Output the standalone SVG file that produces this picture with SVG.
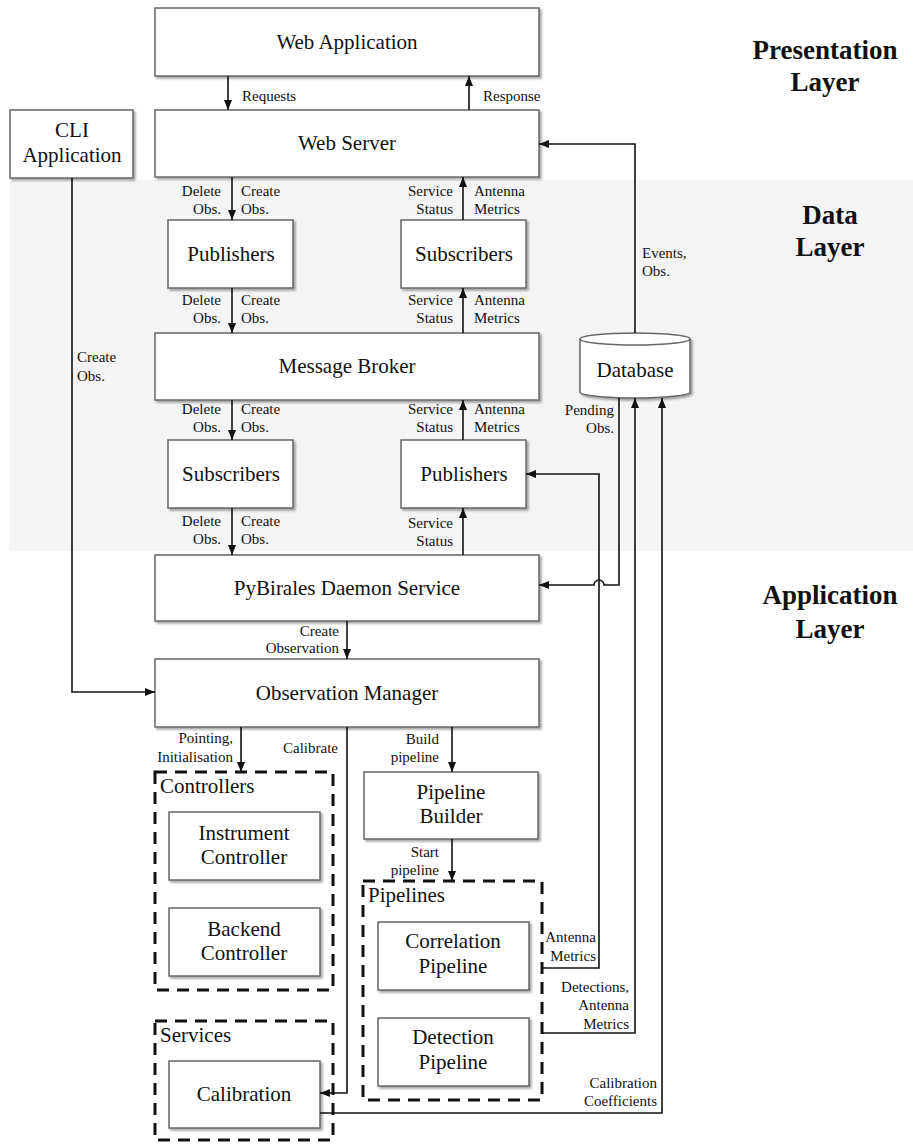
<svg xmlns="http://www.w3.org/2000/svg" width="913" height="1147" viewBox="0 0 913 1147">
<defs>
<marker id="arr" markerUnits="userSpaceOnUse" markerWidth="10" markerHeight="8" refX="10" refY="4" orient="auto"><path d="M0,0 L10,4 L0,8 z" fill="#111"/></marker>
<filter id="sh" x="-5%" y="-5%" width="115%" height="120%"><feDropShadow dx="2" dy="2" stdDeviation="1" flood-color="#000" flood-opacity="0.35"/></filter>
</defs>
<style>
.box{fill:#fff;stroke:#666;stroke-width:1.5;filter:url(#sh)}
.dash{fill:none;stroke:#111;stroke-width:3;stroke-dasharray:12 8}
.t{font-family:"Liberation Serif",serif;font-size:21px;fill:#111;text-anchor:middle}
.tl{font-family:"Liberation Serif",serif;font-size:21px;fill:#111}
.s{font-family:"Liberation Serif",serif;font-size:15px;fill:#111}
.r{text-anchor:end}
.h{font-family:"Liberation Serif",serif;font-size:27px;font-weight:bold;fill:#111;text-anchor:middle}
.c{fill:none;stroke:#111;stroke-width:1.6}
</style>
<rect x="10" y="180" width="903" height="371" fill="#f4f4f4"/>
<g id="layer-titles">
<text class="h" x="825" y="59">Presentation</text><text class="h" x="825" y="91">Layer</text>
<text class="h" x="830" y="224">Data</text><text class="h" x="830" y="256">Layer</text>
<text class="h" x="830" y="604">Application</text><text class="h" x="830" y="638">Layer</text>
</g>
<g id="web-application"><rect class="box" x="155" y="8" width="384" height="68"/><text class="t" x="347" y="49">Web Application</text></g>
<g id="web-server"><rect class="box" x="155" y="110" width="384" height="67"/><text class="t" x="347" y="150">Web Server</text></g>
<g id="cli-application"><rect class="box" x="10" y="110" width="123" height="68"/><text class="t" x="72" y="137">CLI</text><text class="t" x="72" y="162">Application</text></g>
<g id="publishers-top"><rect class="box" x="168" y="220" width="125" height="68"/><text class="t" x="231" y="261">Publishers</text></g>
<g id="subscribers-top"><rect class="box" x="401" y="220" width="125" height="68"/><text class="t" x="464" y="261">Subscribers</text></g>
<g id="message-broker"><rect class="box" x="155" y="333" width="384" height="67"/><text class="t" x="347" y="373">Message Broker</text></g>
<g id="database"><path d="M580,339 A55,6 0 0 1 690,339 V392 A55,6 0 0 1 580,392 Z" fill="#fff" stroke="#666" stroke-width="1.5" filter="url(#sh)"/><path d="M580,339 A55,6 0 0 0 690,339" fill="none" stroke="#666" stroke-width="1.5"/><text class="t" x="635" y="377">Database</text></g>
<g id="subscribers-bottom"><rect class="box" x="168" y="440" width="125" height="68"/><text class="t" x="231" y="481">Subscribers</text></g>
<g id="publishers-bottom"><rect class="box" x="401" y="440" width="125" height="68"/><text class="t" x="464" y="481">Publishers</text></g>
<g id="pybirales-daemon"><rect class="box" x="155" y="555" width="384" height="66"/><text class="t" x="347" y="595">PyBirales Daemon Service</text></g>
<g id="observation-manager"><rect class="box" x="155" y="659" width="384" height="68"/><text class="t" x="347" y="700">Observation Manager</text></g>
<g id="controllers"><rect class="dash" x="155" y="772" width="178" height="218"/><text class="tl" x="160" y="793">Controllers</text></g>
<g id="instrument-controller"><rect class="box" x="169" y="812" width="151" height="68"/><text class="t" x="244" y="840">Instrument</text><text class="t" x="244" y="864">Controller</text></g>
<g id="backend-controller"><rect class="box" x="169" y="908" width="151" height="68"/><text class="t" x="244" y="936">Backend</text><text class="t" x="244" y="960">Controller</text></g>
<g id="services"><rect class="dash" x="155" y="1021" width="178" height="119"/><text class="tl" x="160" y="1042">Services</text></g>
<g id="calibration"><rect class="box" x="169" y="1061" width="151" height="67"/><text class="t" x="244" y="1101">Calibration</text></g>
<g id="pipeline-builder"><rect class="box" x="364" y="772" width="174" height="67"/><text class="t" x="451" y="799">Pipeline</text><text class="t" x="451" y="823">Builder</text></g>
<g id="pipelines"><rect class="dash" x="363" y="881" width="179" height="219"/><text class="tl" x="368" y="902">Pipelines</text></g>
<g id="correlation-pipeline"><rect class="box" x="378" y="922" width="151" height="68"/><text class="t" x="453" y="948">Correlation</text><text class="t" x="453" y="973">Pipeline</text></g>
<g id="detection-pipeline"><rect class="box" x="378" y="1018" width="151" height="68"/><text class="t" x="453" y="1044">Detection</text><text class="t" x="453" y="1069">Pipeline</text></g>
<g id="connectors">
<path class="c" d="M228,76 V110" marker-end="url(#arr)"/>
<path class="c" d="M469,110 V76" marker-end="url(#arr)"/>
<path class="c" d="M232,177 V220" marker-end="url(#arr)"/>
<path class="c" d="M232,288 V333" marker-end="url(#arr)"/>
<path class="c" d="M232,400 V440" marker-end="url(#arr)"/>
<path class="c" d="M232,508 V555" marker-end="url(#arr)"/>
<path class="c" d="M463,220 V177" marker-end="url(#arr)"/>
<path class="c" d="M463,333 V288" marker-end="url(#arr)"/>
<path class="c" d="M463,440 V400" marker-end="url(#arr)"/>
<path class="c" d="M463,555 V508" marker-end="url(#arr)"/>
<path class="c" d="M635,333 V144 H539" marker-end="url(#arr)"/>
<path class="c" d="M72,178 V692 H155" marker-end="url(#arr)"/>
<path class="c" d="M347,621 V659" marker-end="url(#arr)"/>
<path class="c" d="M241,727 V772" marker-end="url(#arr)"/>
<path class="c" d="M452,727 V772" marker-end="url(#arr)"/>
<path class="c" d="M452,839 V881" marker-end="url(#arr)"/>
<path class="c" d="M347,727 V1093 H320" marker-end="url(#arr)"/>
<path class="c" d="M619,398 V585 H604 A5,5 0 0 0 594,585 H539" marker-end="url(#arr)"/>
<path class="c" d="M542,968 H599 V474 H526" marker-end="url(#arr)"/>
<path class="c" d="M542,1033 H635 V398" marker-end="url(#arr)"/>
<path class="c" d="M320,1113 H662 V398" marker-end="url(#arr)"/>
</g>
<g id="labels">
<text class="s" x="242" y="101">Requests</text>
<text class="s" x="483" y="101">Response</text>
<text class="s r" x="221" y="196">Delete</text><text class="s r" x="221" y="214">Obs.</text>
<text class="s" x="241" y="196">Create</text><text class="s" x="241" y="214">Obs.</text>
<text class="s r" x="221" y="305">Delete</text><text class="s r" x="221" y="323">Obs.</text>
<text class="s" x="241" y="305">Create</text><text class="s" x="241" y="323">Obs.</text>
<text class="s r" x="221" y="414">Delete</text><text class="s r" x="221" y="432">Obs.</text>
<text class="s" x="241" y="414">Create</text><text class="s" x="241" y="432">Obs.</text>
<text class="s r" x="221" y="526">Delete</text><text class="s r" x="221" y="544">Obs.</text>
<text class="s" x="241" y="526">Create</text><text class="s" x="241" y="544">Obs.</text>
<text class="s r" x="453" y="196">Service</text><text class="s r" x="453" y="214">Status</text>
<text class="s" x="474" y="196">Antenna</text><text class="s" x="474" y="214">Metrics</text>
<text class="s r" x="453" y="305">Service</text><text class="s r" x="453" y="323">Status</text>
<text class="s" x="474" y="305">Antenna</text><text class="s" x="474" y="323">Metrics</text>
<text class="s r" x="453" y="414">Service</text><text class="s r" x="453" y="432">Status</text>
<text class="s" x="474" y="414">Antenna</text><text class="s" x="474" y="432">Metrics</text>
<text class="s r" x="453" y="528">Service</text><text class="s r" x="453" y="546">Status</text>
<text class="s" x="642" y="258">Events,</text><text class="s" x="642" y="276">Obs.</text>
<text class="s r" x="614" y="415">Pending</text><text class="s r" x="614" y="433">Obs.</text>
<text class="s" x="77" y="362">Create</text><text class="s" x="77" y="381">Obs.</text>
<text class="s r" x="339" y="636">Create</text><text class="s r" x="339" y="653">Observation</text>
<text class="s r" x="233" y="743">Pointing,</text><text class="s r" x="233" y="762">Initialisation</text>
<text class="s" x="283" y="753">Calibrate</text>
<text class="s r" x="439" y="744">Build</text><text class="s r" x="439" y="762">pipeline</text>
<text class="s r" x="439" y="857">Start</text><text class="s r" x="439" y="875">pipeline</text>
<text class="s r" x="596" y="942">Antenna</text><text class="s r" x="596" y="961">Metrics</text>
<text class="s r" x="629" y="992">Detections,</text><text class="s r" x="629" y="1010">Antenna</text><text class="s r" x="629" y="1029">Metrics</text>
<text class="s r" x="657" y="1088">Calibration</text><text class="s r" x="657" y="1106">Coefficients</text>
</g>
</svg>
